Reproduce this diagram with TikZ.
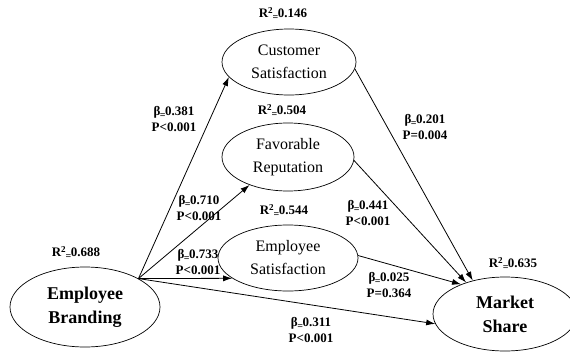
\documentclass[tikz,border=0pt]{standalone}
\usepackage{fontspec}
\setmainfont{Liberation Serif}
\usetikzlibrary{shapes.geometric,arrows.meta}
\tikzset{
	construct/.style={draw, ellipse, inner sep=0pt, align=center, line width=0.7pt, font=\fontsize{16}{23}\selectfont},
	keyconstruct/.style={construct, font=\bfseries\fontsize{18}{24}\selectfont},
	coef/.style={align=center, inner sep=0pt, font=\bfseries\fontsize{13}{15.5}\selectfont},
	link/.style={-{Latex[length=9pt,width=6pt]}, line width=0.8pt}
}
\newcommand{\smalleq}{\raisebox{-3pt}{\fontsize{10}{10}\selectfont\kern-0.5pt=\kern-0.5pt}}
\newcommand{\bcoef}[2]{β\smalleq#1\\P#2}
\newcommand{\rsq}[1]{R\textsuperscript{2}\smalleq#1}
\begin{document}
\begin{tikzpicture}[x=1pt,y=-1pt]
		\useasboundingbox (0,0) rectangle (570,359);

		\node [construct, minimum width=134pt, minimum height=66pt] (CustSat) at (289,62) {Customer\\Satisfaction};
		\node [construct, minimum width=132pt, minimum height=68pt] (FavRep) at (288,157) {Favorable\\Reputation};
		\node [construct, minimum width=140pt, minimum height=66pt] (EmpSat) at (288,258) {Employee\\Satisfaction};
		\node [keyconstruct, minimum width=150pt, minimum height=80pt] (EmpBrand) at (85,307) {Employee\\Branding};
		\node [keyconstruct, minimum width=144pt, minimum height=74pt] (MktShare) at (505,314) {Market\\Share};

		\node [coef] (CustSatR) at (283,14) {\rsq{0.146}};
		\node [coef] (FavRepR) at (282,111) {\rsq{0.504}};
		\node [coef] (EmpSatR) at (284,211) {\rsq{0.544}};
		\node [coef] (EmpBrandR) at (76,253) {\rsq{0.688}};
		\node [coef] (MktShareR) at (513,264) {\rsq{0.635}};

		\coordinate (BrandOut) at (EmpBrand.28);

		\draw [link] (BrandOut) -- (CustSat.194);
		\draw [link] (BrandOut) -- (FavRep.216);
		\draw [link] (BrandOut) -- (EmpSat.200);
		\draw [link] (BrandOut) -- (MktShare.188);

		\draw [link] (CustSat.354) -- (MktShare.134);
		\draw [link] (FavRep.357) -- (MktShare.141);
		\draw [link] (EmpSat.2) -- (MktShare.146);

		\node [coef] (BrandCust) at (174,119) {\bcoef{0.381}{<0.001}};
		\node [coef] (BrandRep) at (199,208) {\bcoef{0.710}{<0.001}};
		\node [coef] (BrandSat) at (198,262) {\bcoef{0.733}{<0.001}};
		\node [coef] (BrandShare) at (311,330) {\bcoef{0.311}{<0.001}};
		\node [coef] (CustShare) at (425,127) {\bcoef{0.201}{=0.004}};
		\node [coef] (RepShare) at (368,213) {\bcoef{0.441}{<0.001}};
		\node [coef] (SatShare) at (389,285) {\bcoef{0.025}{=0.364}};
	\end{tikzpicture}
\end{document}
